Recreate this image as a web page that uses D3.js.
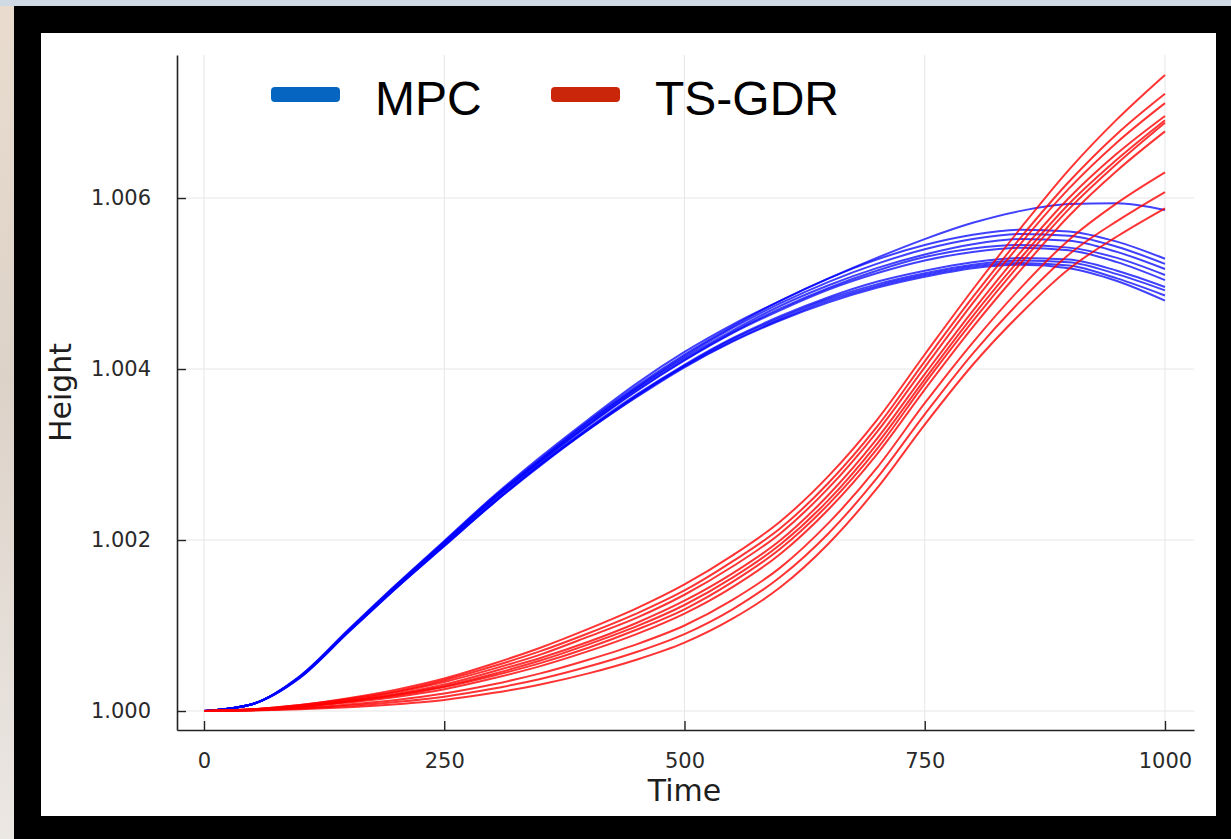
<!DOCTYPE html>
<html>
<head>
<meta charset="utf-8">
<script src="https://cdn.jsdelivr.net/npm/d3@7"></script>
<style>
  html, body { margin: 0; padding: 0; background: #cfdae4; }
  svg { display: block; }
</style>
</head>
<body>
<svg id="chart" width="1231" height="839"></svg>
<script>
// Heights are stored as (h - 1) * 1000, i.e. thousandths above 1.000
const SCALE = 1000;

// sample times shared by every run
const times = [0, 50, 100, 150, 200, 250, 300, 350, 400, 450, 500, 550, 600, 650, 700, 750, 800, 850, 900, 950, 1000];

// MPC runs
const mpcRuns = [
  [0, 0.08, 0.41, 0.95, 1.48, 1.99, 2.50, 2.97, 3.41, 3.83, 4.20, 4.52, 4.80, 5.06, 5.30, 5.52, 5.71, 5.85, 5.93, 5.94, 5.86],
  [0, 0.08, 0.41, 0.94, 1.47, 1.98, 2.49, 2.95, 3.39, 3.80, 4.17, 4.50, 4.80, 5.06, 5.28, 5.45, 5.57, 5.63, 5.61, 5.49, 5.29],
  [0, 0.08, 0.40, 0.94, 1.47, 1.97, 2.48, 2.94, 3.38, 3.78, 4.15, 4.48, 4.77, 5.02, 5.23, 5.40, 5.52, 5.58, 5.56, 5.43, 5.23],
  [0, 0.08, 0.40, 0.93, 1.46, 1.97, 2.47, 2.93, 3.36, 3.77, 4.13, 4.45, 4.74, 4.98, 5.18, 5.34, 5.46, 5.52, 5.50, 5.37, 5.17],
  [0, 0.08, 0.40, 0.93, 1.46, 1.96, 2.46, 2.92, 3.35, 3.75, 4.11, 4.43, 4.71, 4.95, 5.15, 5.31, 5.41, 5.45, 5.42, 5.30, 5.10],
  [0, 0.08, 0.40, 0.93, 1.46, 1.96, 2.46, 2.91, 3.34, 3.74, 4.10, 4.42, 4.69, 4.93, 5.12, 5.27, 5.37, 5.42, 5.39, 5.25, 5.04],
  [0, 0.08, 0.40, 0.93, 1.45, 1.94, 2.43, 2.89, 3.31, 3.70, 4.05, 4.36, 4.62, 4.84, 5.02, 5.15, 5.25, 5.30, 5.28, 5.15, 4.96],
  [0, 0.08, 0.40, 0.92, 1.44, 1.94, 2.43, 2.88, 3.30, 3.69, 4.04, 4.35, 4.60, 4.82, 4.99, 5.12, 5.22, 5.27, 5.25, 5.11, 4.92],
  [0, 0.08, 0.39, 0.92, 1.44, 1.93, 2.42, 2.87, 3.29, 3.67, 4.02, 4.32, 4.57, 4.78, 4.95, 5.08, 5.18, 5.22, 5.18, 5.03, 4.80],
  [0, 0.08, 0.39, 0.92, 1.44, 1.93, 2.42, 2.88, 3.29, 3.68, 4.03, 4.33, 4.58, 4.80, 4.97, 5.10, 5.20, 5.24, 5.21, 5.06, 4.86]
];

// TS-GDR runs
const gdrRuns = [
  [0, 0.020, 0.070, 0.150, 0.250, 0.380, 0.55, 0.740, 0.96, 1.20, 1.48, 1.82, 2.22, 2.75, 3.40, 4.17, 4.93, 5.65, 6.33, 6.92, 7.44],
  [0, 0.020, 0.070, 0.140, 0.230, 0.360, 0.52, 0.700, 0.91, 1.14, 1.41, 1.75, 2.14, 2.67, 3.32, 4.09, 4.84, 5.54, 6.19, 6.75, 7.22],
  [0, 0.020, 0.060, 0.130, 0.220, 0.340, 0.49, 0.660, 0.87, 1.09, 1.36, 1.69, 2.08, 2.61, 3.26, 4.02, 4.77, 5.47, 6.11, 6.65, 7.11],
  [0, 0.020, 0.060, 0.120, 0.200, 0.310, 0.46, 0.620, 0.81, 1.03, 1.29, 1.61, 2.00, 2.53, 3.18, 3.94, 4.68, 5.37, 6.00, 6.52, 6.96],
  [0, 0.015, 0.050, 0.110, 0.190, 0.290, 0.43, 0.590, 0.78, 0.99, 1.24, 1.56, 1.95, 2.47, 3.12, 3.88, 4.62, 5.30, 5.93, 6.45, 6.91],
  [0, 0.014, 0.050, 0.110, 0.180, 0.280, 0.41, 0.560, 0.74, 0.95, 1.19, 1.51, 1.90, 2.42, 3.06, 3.83, 4.56, 5.24, 5.87, 6.40, 6.88],
  [0, 0.013, 0.045, 0.100, 0.165, 0.255, 0.38, 0.525, 0.70, 0.90, 1.14, 1.45, 1.84, 2.36, 3.00, 3.76, 4.49, 5.16, 5.79, 6.32, 6.78],
  [0, 0.010, 0.035, 0.077, 0.130, 0.205, 0.31, 0.440, 0.60, 0.78, 1.00, 1.30, 1.68, 2.20, 2.84, 3.60, 4.31, 4.95, 5.51, 5.94, 6.30],
  [0, 0.007, 0.028, 0.061, 0.106, 0.168, 0.26, 0.375, 0.52, 0.69, 0.90, 1.19, 1.57, 2.08, 2.72, 3.47, 4.18, 4.80, 5.34, 5.73, 6.07],
  [0, 0.005, 0.020, 0.045, 0.080, 0.130, 0.21, 0.310, 0.44, 0.60, 0.80, 1.08, 1.45, 1.96, 2.60, 3.35, 4.05, 4.65, 5.17, 5.55, 5.88]
];

const seriesNames = ["MPC", "TS-GDR"];
const xTicks = [0, 250, 500, 750, 1000];
const yTicks = [1.000, 1.002, 1.004, 1.006];

const svg = d3.select("#chart");

// surroundings: left strip, black frame, white canvas
const grad = svg.append("defs").append("linearGradient")
  .attr("id", "strip").attr("x1", 0).attr("y1", 0).attr("x2", 0).attr("y2", 1);
grad.append("stop").attr("offset", "0%").attr("stop-color", "#e9dccf");
grad.append("stop").attr("offset", "45%").attr("stop-color", "#ddd2c8");
grad.append("stop").attr("offset", "100%").attr("stop-color", "#ebe7e3");
svg.append("rect").attr("x", 0).attr("y", 6).attr("width", 14).attr("height", 833).attr("fill", "url(#strip)");
svg.append("rect").attr("x", 14).attr("y", 6).attr("width", 1217).attr("height", 833).attr("fill", "#000");
svg.append("rect").attr("x", 41).attr("y", 33).attr("width", 1175).attr("height", 783).attr("fill", "#fff");

// plot area
const plotL = 177, plotR = 1194, plotT = 55, plotB = 730;
const x = d3.scaleLinear().domain([-28.1, 1030.2]).range([plotL, plotR]);
const y = d3.scaleLinear().domain([0.999778, 1.007673]).range([plotB, plotT]);

// grid
const grid = svg.append("g");
grid.selectAll(".vg").data(xTicks).join("line")
  .attr("x1", d => x(d)).attr("x2", d => x(d))
  .attr("y1", plotT).attr("y2", plotB)
  .attr("stroke", "#e6e6e6").attr("stroke-width", 1);
grid.selectAll(".hg").data(yTicks).join("line")
  .attr("x1", plotL).attr("x2", plotR)
  .attr("y1", d => y(d)).attr("y2", d => y(d))
  .attr("stroke", "#e6e6e6").attr("stroke-width", 1);

// runs
const line = d3.line()
  .x((d, i) => x(times[i]))
  .y(d => y(1 + d / SCALE))
  .curve(d3.curveMonotoneX);

const lines = svg.append("g").attr("fill", "none");
lines.selectAll(".mpc").data(mpcRuns).join("path")
  .attr("d", line)
  .attr("stroke", "#0000ff").attr("stroke-width", 2).attr("stroke-opacity", 0.75);
lines.selectAll(".gdr").data(gdrRuns).join("path")
  .attr("d", line)
  .attr("stroke", "#ff0000").attr("stroke-width", 2).attr("stroke-opacity", 0.8);

// axes
const axisColor = "#222";
const xAxis = svg.append("g").attr("transform", `translate(0,${plotB})`)
  .call(d3.axisBottom(x).tickValues(xTicks).tickFormat(d3.format("d")).tickSizeInner(-9).tickSizeOuter(0).tickPadding(23));
const yAxis = svg.append("g").attr("transform", `translate(${plotL},0)`)
  .call(d3.axisLeft(y).tickValues(yTicks).tickFormat(d3.format(".3f")).tickSizeInner(-9).tickSizeOuter(0).tickPadding(26));
[xAxis, yAxis].forEach(g => {
  g.select(".domain").attr("stroke", axisColor).attr("stroke-width", 1.6);
  g.selectAll(".tick line").attr("stroke", axisColor).attr("stroke-width", 1.4);
  g.selectAll(".tick text")
    .attr("fill", "#2a2a2a")
    .style("font-family", "'DejaVu Sans', sans-serif")
    .style("font-size", "21px");
});

// axis titles
svg.append("text")
  .attr("x", (x(0) + x(1000)) / 2).attr("y", 801)
  .attr("text-anchor", "middle")
  .style("font-family", "'DejaVu Sans', sans-serif").style("font-size", "30px")
  .attr("fill", "#1e1e1e").text("Time");
svg.append("text")
  .attr("transform", `translate(71,${(plotT + plotB) / 2}) rotate(-90)`)
  .attr("text-anchor", "middle")
  .style("font-family", "'DejaVu Sans', sans-serif").style("font-size", "30px")
  .attr("fill", "#1e1e1e").text("Height");

// legend
const legendColors = ["#0565c0", "#c9260a"];
const legendX = [271, 551];
const legend = svg.append("g");
seriesNames.forEach((name, i) => {
  legend.append("rect")
    .attr("x", legendX[i]).attr("y", 87).attr("width", 69).attr("height", 15)
    .attr("rx", 4).attr("fill", legendColors[i]);
  legend.append("text")
    .attr("x", legendX[i] + 104).attr("y", 115)
    .style("font-family", "'Liberation Sans', Arial, sans-serif").style("font-size", "48px")
    .attr("fill", "#000").text(name);
});
</script>
</body>
</html>
